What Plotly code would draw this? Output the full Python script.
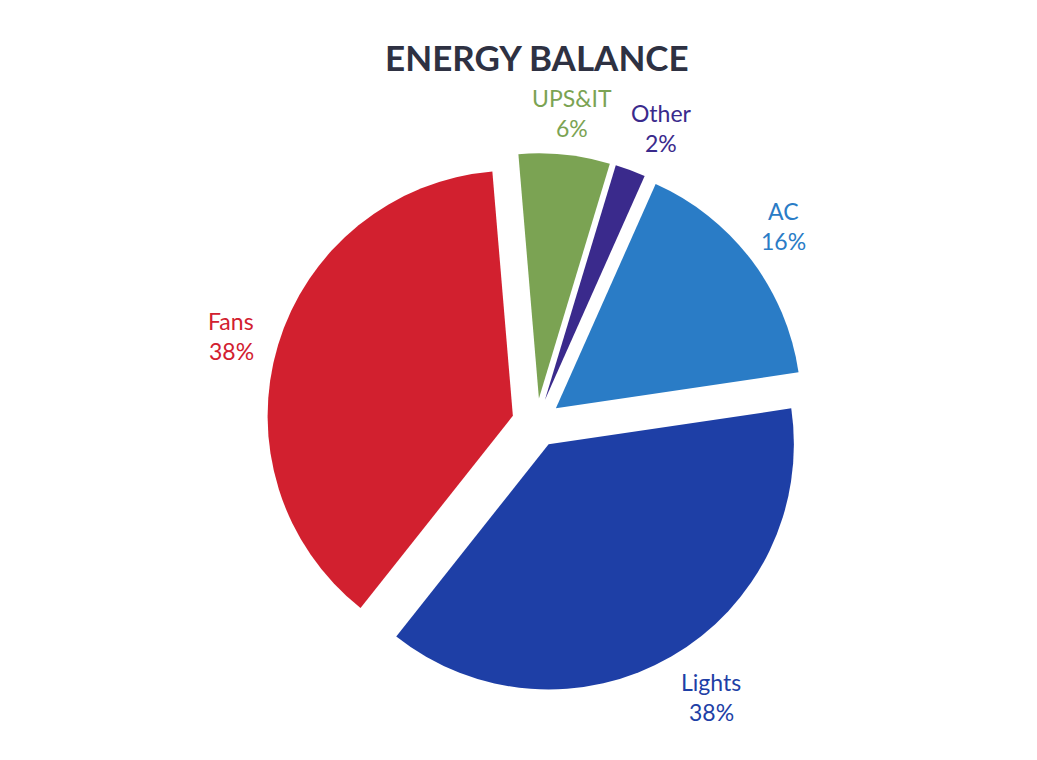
import plotly.graph_objects as go

labels = ["AC", "Lights", "Fans", "UPS&IT", "Other"]
values = [16, 38, 38, 6, 2]
colors = ["#2a7cc6", "#1e3fa6", "#d2202f", "#7ba353", "#3a2a8c"]
percent_text = ["16%", "38%", "38%", "6%", "2%"]

# label block centres (pixel positions as seen in the page)
label_pos = [(783, 226), (711, 697), (231, 336), (572, 113), (661, 128)]

W, H = 1037, 760
OFF = 8  # page body margin

fig = go.Figure(go.Pie(
    labels=labels,
    values=values,
    sort=False,
    direction="clockwise",
    rotation=24,
    pull=[0.1] * len(values),
    marker=dict(colors=colors, line=dict(width=0)),
    textinfo="none",
    showlegend=False,
    domain=dict(x=[0.249, 0.770], y=[0.099, 0.809]),
    hoverinfo="label+percent",
))

annotations = []
for lab, pct, col, (px, py) in zip(labels, percent_text, colors, label_pos):
    for txt, dy in ((lab, -15), (pct, 15)):
        annotations.append(dict(
            text=txt, x=(px - OFF) / W, y=1 - (py + dy - OFF) / H,
            xref="paper", yref="paper", xanchor="center", yanchor="middle",
            showarrow=False, font=dict(family="Lato", size=23, color=col),
        ))

fig.update_layout(
    width=W, height=H,
    margin=dict(l=0, r=0, t=0, b=0),
    paper_bgcolor="white",
    title=dict(text="<b>ENERGY BALANCE</b>", x=0.510, xanchor="center",
               y=0.933, yanchor="middle",
               font=dict(family="Lato", size=35, color="#2e3142")),
    annotations=annotations,
)

fig.write_html("out.html")
